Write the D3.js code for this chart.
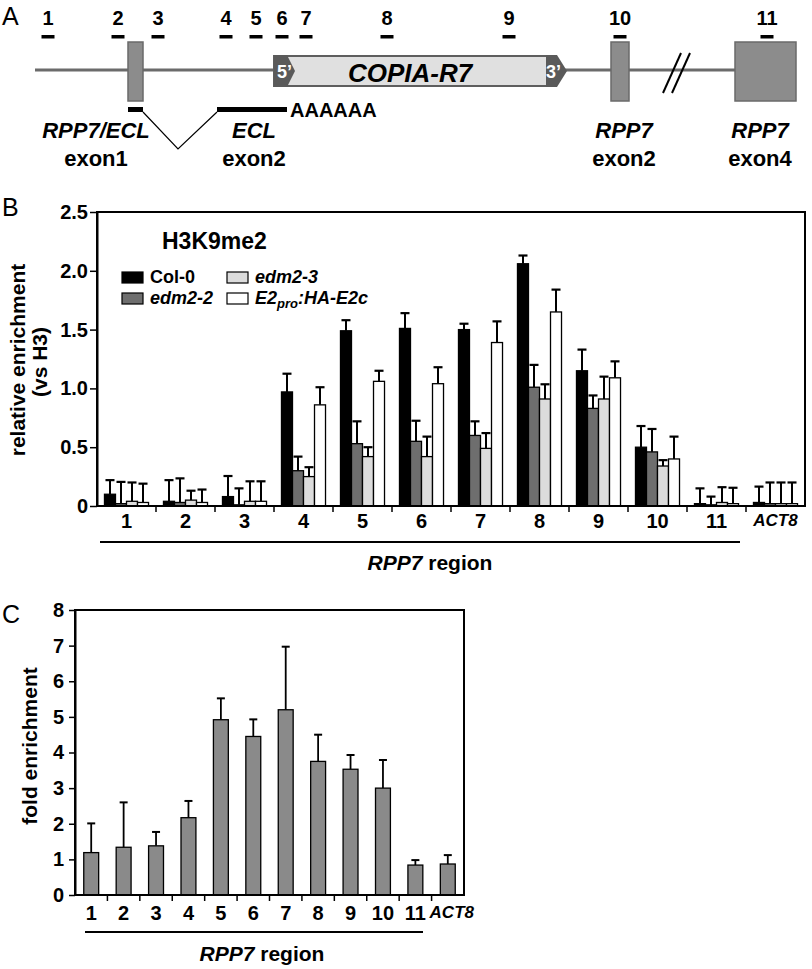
<!DOCTYPE html>
<html>
<head>
<meta charset="utf-8">
<script src="https://cdn.jsdelivr.net/npm/d3@7"></script>
<style>
body { margin: 0; background: #fff; }
svg { display: block; }
</style>
</head>
<body>
<div id="figure"></div>
<script>
var FONT = "'Liberation Sans', Arial, Helvetica, sans-serif";

// panel A: primer amplicons, positions along the schematic locus
var primerIds = ["1", "2", "3", "4", "5", "6", "7", "8", "9", "10", "11"];
var primerPos = [48, 118, 158, 226, 256, 282, 306, 387, 509, 620, 767];

// exon boxes on the locus (start, end)
var exonStart = [128, 611, 735];
var exonEnd = [143, 629, 796];
var locusStart = 35, locusEnd = 735;
var copiaStart = 274, copiaEnd = 567;

// panel B: H3K9me2 ChIP, relative enrichment (vs H3)
var regions = ["1", "2", "3", "4", "5", "6", "7", "8", "9", "10", "11", "ACT8"];
var seriesNames = ["Col-0", "edm2-2", "edm2-3", "E2pro:HA-E2c"];
var seriesColors = ["#000000", "#6e6e6e", "#dcdcdc", "#ffffff"];
var col0 = [0.10, 0.04, 0.08, 0.97, 1.49, 1.51, 1.50, 2.06, 1.15, 0.50, 0.02, 0.03];
var col0Err = [0.12, 0.18, 0.175, 0.155, 0.09, 0.13, 0.05, 0.07, 0.18, 0.18, 0.13, 0.135];
var edm22 = [0.02, 0.03, 0.01, 0.30, 0.53, 0.55, 0.60, 1.01, 0.83, 0.46, 0.01, 0.02];
var edm22Err = [0.185, 0.205, 0.14, 0.12, 0.19, 0.175, 0.12, 0.19, 0.11, 0.195, 0.07, 0.18];
var edm23 = [0.04, 0.05, 0.04, 0.25, 0.42, 0.42, 0.49, 0.91, 0.91, 0.34, 0.03, 0.02];
var edm23Err = [0.16, 0.08, 0.17, 0.08, 0.08, 0.17, 0.13, 0.125, 0.19, 0.05, 0.13, 0.18];
var e2c = [0.03, 0.03, 0.04, 0.86, 1.06, 1.04, 1.39, 1.65, 1.09, 0.40, 0.02, 0.02];
var e2cErr = [0.16, 0.11, 0.17, 0.15, 0.09, 0.14, 0.18, 0.19, 0.14, 0.19, 0.135, 0.18];
var yTicksB = [0, 0.5, 1.0, 1.5, 2.0, 2.5];

// panel C: fold enrichment
var foldEnrich = [1.19, 1.34, 1.38, 2.17, 4.92, 4.45, 5.20, 3.75, 3.53, 3.00, 0.84, 0.87];
var foldErr = [0.82, 1.26, 0.39, 0.47, 0.60, 0.48, 1.77, 0.75, 0.40, 0.79, 0.14, 0.25];
var yTicksC = [0, 1, 2, 3, 4, 5, 6, 7, 8];

var svg = d3.select("#figure").append("svg")
    .attr("width", 812)
    .attr("height", 969)
    .attr("font-family", FONT)
    .attr("font-weight", "bold");

svg.append("rect").attr("width", 812).attr("height", 969).attr("fill", "#fff");

// panel letters
svg.selectAll("text.panel")
    .data([["A", 25], ["B", 216], ["C", 623]])
    .enter().append("text")
    .attr("class", "panel")
    .attr("x", 2)
    .attr("y", function (d) { return d[1]; })
    .attr("font-size", 25)
    .attr("font-weight", "normal")
    .text(function (d) { return d[0]; });

/* ---------- Panel A: locus schematic ---------- */
var xA = d3.scaleLinear().domain([0, 812]).range([0, 812]);
var gA = svg.append("g");

gA.append("line")
    .attr("x1", xA(locusStart)).attr("x2", xA(locusEnd))
    .attr("y1", 70).attr("y2", 70)
    .attr("stroke", "#6b6b6b").attr("stroke-width", 3);

// break marks
[663, 672].forEach(function (x0) {
    gA.append("line")
        .attr("x1", xA(x0)).attr("y1", 93)
        .attr("x2", xA(x0 + 18)).attr("y2", 53)
        .attr("stroke", "#000").attr("stroke-width", 2);
});

gA.selectAll("rect.exon")
    .data(exonStart)
    .enter().append("rect")
    .attr("class", "exon")
    .attr("x", function (d) { return xA(d); })
    .attr("y", 42)
    .attr("width", function (d, i) { return xA(exonEnd[i]) - xA(d); })
    .attr("height", 59)
    .attr("fill", "#8c8c8c")
    .attr("stroke", "#6a6a6a")
    .attr("stroke-width", 1.5);

// COPIA-R7 element
gA.append("rect")
    .attr("x", xA(copiaStart)).attr("y", 56)
    .attr("width", xA(copiaEnd - 20) - xA(copiaStart)).attr("height", 30)
    .attr("fill", "#e0e0e0").attr("stroke", "#5e5e5e").attr("stroke-width", 2);
gA.append("polygon")
    .attr("points", [[copiaStart, 55], [copiaStart + 13, 55], [copiaStart + 21, 71], [copiaStart + 13, 87], [copiaStart, 87]]
        .map(function (p) { return xA(p[0]) + "," + p[1]; }).join(" "))
    .attr("fill", "#5a5a5a");
gA.append("polygon")
    .attr("points", [[copiaEnd - 21, 55], [copiaEnd - 10, 55], [copiaEnd, 71], [copiaEnd - 10, 87], [copiaEnd - 21, 87]]
        .map(function (p) { return xA(p[0]) + "," + p[1]; }).join(" "))
    .attr("fill", "#5a5a5a");
gA.append("text").attr("x", xA(copiaStart + 3)).attr("y", 78)
    .attr("font-size", 18).attr("fill", "#fff").text("5\u2019");
gA.append("text").attr("x", xA(copiaEnd - 21)).attr("y", 78)
    .attr("font-size", 18).attr("fill", "#fff").text("3\u2019");
gA.append("text").attr("x", xA(410)).attr("y", 82)
    .attr("text-anchor", "middle").attr("font-size", 26).attr("font-style", "italic")
    .text("COPIA-R7");

// primer dashes and numbers
gA.selectAll("rect.primer")
    .data(primerPos)
    .enter().append("rect")
    .attr("class", "primer")
    .attr("x", function (d) { return xA(d) - 6.5; })
    .attr("y", 35)
    .attr("width", 13)
    .attr("height", 3.5)
    .attr("fill", "#000");
gA.selectAll("text.primer")
    .data(primerPos)
    .enter().append("text")
    .attr("class", "primer")
    .attr("x", function (d) { return xA(d); })
    .attr("y", 25)
    .attr("text-anchor", "middle")
    .attr("font-size", 20)
    .text(function (d, i) { return primerIds[i]; });

// ECL transcript
gA.append("rect").attr("x", xA(128)).attr("y", 107).attr("width", xA(143) - xA(128)).attr("height", 5).attr("fill", "#000");
gA.append("rect").attr("x", xA(217)).attr("y", 107).attr("width", xA(287) - xA(217)).attr("height", 5).attr("fill", "#000");
gA.append("polyline")
    .attr("points", xA(143) + ",112 " + xA(178) + ",149 " + xA(217) + ",112")
    .attr("fill", "none").attr("stroke", "#000").attr("stroke-width", 1.2);
gA.append("text").attr("x", xA(290)).attr("y", 117).attr("font-size", 20).text("AAAAAA");

var exonLabels = [
    { x: 96, top: "RPP7/ECL", bottom: "exon1" },
    { x: 254, top: "ECL", bottom: "exon2" },
    { x: 624, top: "RPP7", bottom: "exon2" },
    { x: 760, top: "RPP7", bottom: "exon4" }
];
exonLabels.forEach(function (d) {
    gA.append("text").attr("x", xA(d.x)).attr("y", 138).attr("text-anchor", "middle")
        .attr("font-size", 22).attr("font-style", "italic").text(d.top);
    gA.append("text").attr("x", xA(d.x)).attr("y", 166).attr("text-anchor", "middle")
        .attr("font-size", 22).text(d.bottom);
});

/* ---------- Panel B: grouped bars ---------- */
var bLeft = 97, bRight = 805, bTop = 212, bBottom = 506;
var xB = d3.scaleBand().domain(regions).range([bLeft, bRight]).padding(0);
var x1 = d3.scaleBand().domain(seriesNames).range([0, xB.bandwidth()]).paddingInner(0).paddingOuter(0.68);
var yB = d3.scaleLinear().domain([0, 2.5]).range([bBottom, bTop]);

var valuesB = [col0, edm22, edm23, e2c];
var errorsB = [col0Err, edm22Err, edm23Err, e2cErr];
var barsB = [];
regions.forEach(function (r, i) {
    seriesNames.forEach(function (s, j) {
        barsB.push({ region: r, series: s, value: valuesB[j][i], err: errorsB[j][i], color: seriesColors[j] });
    });
});

var gB = svg.append("g");

gB.selectAll("line.errB")
    .data(barsB)
    .enter().append("line")
    .attr("class", "errB")
    .attr("x1", function (d) { return xB(d.region) + x1(d.series) + x1.bandwidth() / 2; })
    .attr("x2", function (d) { return xB(d.region) + x1(d.series) + x1.bandwidth() / 2; })
    .attr("y1", function (d) { return yB(d.value); })
    .attr("y2", function (d) { return yB(d.value + d.err); })
    .attr("stroke", "#000").attr("stroke-width", 2);
gB.selectAll("line.capB")
    .data(barsB)
    .enter().append("line")
    .attr("class", "capB")
    .attr("x1", function (d) { return xB(d.region) + x1(d.series) + 1; })
    .attr("x2", function (d) { return xB(d.region) + x1(d.series) + x1.bandwidth() - 1; })
    .attr("y1", function (d) { return yB(d.value + d.err); })
    .attr("y2", function (d) { return yB(d.value + d.err); })
    .attr("stroke", "#000").attr("stroke-width", 2.2);

gB.selectAll("rect.barB")
    .data(barsB)
    .enter().append("rect")
    .attr("class", "barB")
    .attr("x", function (d) { return xB(d.region) + x1(d.series); })
    .attr("y", function (d) { return yB(d.value); })
    .attr("width", x1.bandwidth())
    .attr("height", function (d) { return yB(0) - yB(d.value); })
    .attr("fill", function (d) { return d.color; })
    .attr("stroke", "#000").attr("stroke-width", 1.3);

gB.append("rect")
    .attr("x", bLeft).attr("y", bTop)
    .attr("width", bRight - bLeft).attr("height", bBottom - bTop)
    .attr("fill", "none").attr("stroke", "#000").attr("stroke-width", 2);

var axisYB = gB.append("g")
    .attr("transform", "translate(" + bLeft + ",0)")
    .call(d3.axisLeft(yB).tickValues(yTicksB).tickSize(7).tickSizeOuter(0).tickPadding(2)
        .tickFormat(function (d) { return d === 0 ? "0" : d3.format(".1f")(d); }));
axisYB.attr("font-family", FONT).attr("font-size", 20).attr("font-weight", "bold");
axisYB.select(".domain").attr("stroke-width", 2);
axisYB.selectAll(".tick line").attr("stroke-width", 1.5);

var axisXB = gB.append("g")
    .attr("transform", "translate(0," + bBottom + ")")
    .call(d3.axisBottom(xB).tickSize(0).tickPadding(8));
axisXB.attr("font-family", FONT).attr("font-size", 20).attr("font-weight", "bold");
axisXB.select(".domain").remove();
axisXB.selectAll(".tick text")
    .filter(function (d) { return d === "ACT8"; })
    .attr("font-style", "italic").attr("font-size", 17);

gB.selectAll("line.sepB")
    .data(regions.slice(1))
    .enter().append("line")
    .attr("class", "sepB")
    .attr("x1", function (d) { return xB(d); })
    .attr("x2", function (d) { return xB(d); })
    .attr("y1", bBottom).attr("y2", bBottom + 6)
    .attr("stroke", "#000").attr("stroke-width", 1.5);

gB.append("line")
    .attr("x1", xB("1") + 3).attr("x2", xB("11") + xB.bandwidth() - 6)
    .attr("y1", 542).attr("y2", 542)
    .attr("stroke", "#000").attr("stroke-width", 2);
var regB = gB.append("text").attr("x", 430).attr("y", 570).attr("text-anchor", "middle").attr("font-size", 21);
regB.append("tspan").attr("font-style", "italic").text("RPP7");
regB.append("tspan").text(" region");

gB.append("text").attr("transform", "translate(25,360) rotate(-90)")
    .attr("text-anchor", "middle").attr("font-size", 21).text("relative enrichment");
gB.append("text").attr("transform", "translate(47,362) rotate(-90)")
    .attr("text-anchor", "middle").attr("font-size", 21).text("(vs H3)");

// legend
gB.append("text").attr("x", 162).attr("y", 249).attr("font-size", 23).text("H3K9me2");
var legendPos = [[122, 272], [122, 293], [227, 272], [227, 293]];
seriesNames.forEach(function (name, j) {
    var p = legendPos[j];
    gB.append("rect").attr("x", p[0]).attr("y", p[1])
        .attr("width", 21).attr("height", 11)
        .attr("fill", seriesColors[j]).attr("stroke", "#000").attr("stroke-width", 1.2);
    var t = gB.append("text").attr("x", p[0] + 28).attr("y", p[1] + 11).attr("font-size", 18);
    if (j === 0) {
        t.text(name);
    } else if (j === 3) {
        t.attr("font-style", "italic");
        t.append("tspan").text("E2");
        t.append("tspan").attr("font-size", 13).attr("dy", 4).text("pro");
        t.append("tspan").attr("dy", -4).text(":HA-E2c");
    } else {
        t.attr("font-style", "italic").text(name);
    }
});

/* ---------- Panel C: fold enrichment ---------- */
var cLeft = 75, cRight = 464, cTop = 610, cBottom = 895;
var xC = d3.scaleBand().domain(regions).range([cLeft, cRight]).paddingInner(0.54).paddingOuter(0.27);
var yC = d3.scaleLinear().domain([0, 8]).range([cBottom, cTop]);
var gC = svg.append("g");

gC.selectAll("line.errC")
    .data(foldEnrich)
    .enter().append("line")
    .attr("class", "errC")
    .attr("x1", function (d, i) { return xC(regions[i]) + xC.bandwidth() / 2; })
    .attr("x2", function (d, i) { return xC(regions[i]) + xC.bandwidth() / 2; })
    .attr("y1", function (d) { return yC(d); })
    .attr("y2", function (d, i) { return yC(d + foldErr[i]); })
    .attr("stroke", "#000").attr("stroke-width", 1.8);
gC.selectAll("line.capC")
    .data(foldEnrich)
    .enter().append("line")
    .attr("class", "capC")
    .attr("x1", function (d, i) { return xC(regions[i]) + xC.bandwidth() / 2 - 4; })
    .attr("x2", function (d, i) { return xC(regions[i]) + xC.bandwidth() / 2 + 4; })
    .attr("y1", function (d, i) { return yC(d + foldErr[i]); })
    .attr("y2", function (d, i) { return yC(d + foldErr[i]); })
    .attr("stroke", "#000").attr("stroke-width", 2);

gC.selectAll("rect.barC")
    .data(foldEnrich)
    .enter().append("rect")
    .attr("class", "barC")
    .attr("x", function (d, i) { return xC(regions[i]); })
    .attr("y", function (d) { return yC(d); })
    .attr("width", xC.bandwidth())
    .attr("height", function (d) { return yC(0) - yC(d); })
    .attr("fill", "#8a8a8a")
    .attr("stroke", "#000").attr("stroke-width", 1.3);

gC.append("rect")
    .attr("x", cLeft).attr("y", cTop)
    .attr("width", cRight - cLeft).attr("height", cBottom - cTop)
    .attr("fill", "none").attr("stroke", "#000").attr("stroke-width", 2);

var axisYC = gC.append("g")
    .attr("transform", "translate(" + cLeft + ",0)")
    .call(d3.axisLeft(yC).tickValues(yTicksC).tickSize(6).tickSizeOuter(0).tickPadding(5));
axisYC.attr("font-family", FONT).attr("font-size", 20).attr("font-weight", "bold");
axisYC.select(".domain").attr("stroke-width", 2);
axisYC.selectAll(".tick line").attr("stroke-width", 1.5);

var axisXC = gC.append("g")
    .attr("transform", "translate(0," + cBottom + ")")
    .call(d3.axisBottom(xC).tickSize(0).tickPadding(11));
axisXC.attr("font-family", FONT).attr("font-size", 20).attr("font-weight", "bold");
axisXC.select(".domain").remove();
axisXC.selectAll(".tick text")
    .filter(function (d) { return d === "ACT8"; })
    .attr("font-style", "italic").attr("font-size", 17)
    .attr("dx", 4);

var stepC = xC.step();
gC.selectAll("line.sepC")
    .data(regions.slice(1))
    .enter().append("line")
    .attr("class", "sepC")
    .attr("x1", function (d) { return xC(d) - (stepC - xC.bandwidth()) / 2; })
    .attr("x2", function (d) { return xC(d) - (stepC - xC.bandwidth()) / 2; })
    .attr("y1", cBottom).attr("y2", cBottom + 6)
    .attr("stroke", "#000").attr("stroke-width", 1.5);

gC.append("line")
    .attr("x1", 85).attr("x2", 423)
    .attr("y1", 932).attr("y2", 932)
    .attr("stroke", "#000").attr("stroke-width", 2);
var regC = gC.append("text").attr("x", 262).attr("y", 961).attr("text-anchor", "middle").attr("font-size", 21);
regC.append("tspan").attr("font-style", "italic").text("RPP7");
regC.append("tspan").text(" region");

gC.append("text").attr("transform", "translate(37,746) rotate(-90)")
    .attr("text-anchor", "middle").attr("font-size", 21).text("fold enrichment");
</script>
</body>
</html>
